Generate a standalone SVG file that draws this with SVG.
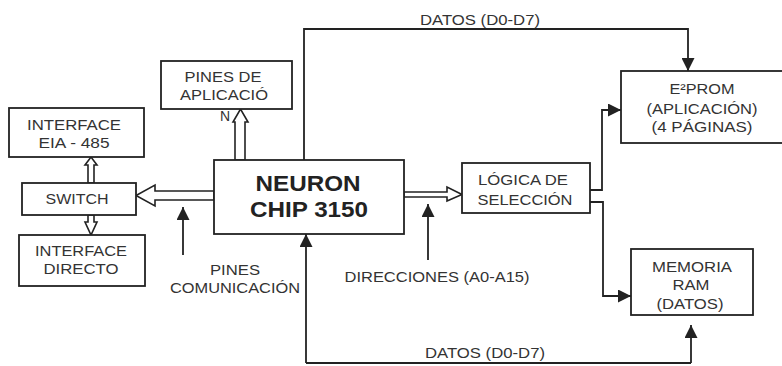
<svg xmlns="http://www.w3.org/2000/svg" width="782" height="366" viewBox="0 0 782 366">
<defs>
<style>
.box{fill:#fff;stroke:#222;stroke-width:1.8}
.t{font-family:"Liberation Sans",Arial,sans-serif;font-size:14px;fill:#333;text-anchor:middle;dominant-baseline:central}
.big{font-family:"Liberation Sans",Arial,sans-serif;font-size:22px;font-weight:bold;fill:#222;text-anchor:middle;dominant-baseline:central}
.ln{fill:none;stroke:#222;stroke-width:1.8}
.hol{fill:#fff;stroke:#222;stroke-width:1.6;stroke-linejoin:miter}
</style>
<marker id="ah" viewBox="0 0 13 13" refX="13" refY="6.5" markerWidth="13" markerHeight="13" markerUnits="userSpaceOnUse" orient="auto">
<path d="M0,0 L13,6.5 L0,13 Z" fill="#222"/>
</marker>
</defs>
<rect width="782" height="366" fill="#fff"/>

<g id="connectors">
<polyline class="ln" points="304,160 304,29 688,29 688,71" marker-end="url(#ah)"/>
<polyline class="ln" points="590,190 602,190 602,110 621,110" marker-end="url(#ah)"/>
<polyline class="ln" points="590,202 603,202 603,296 631,296" marker-end="url(#ah)"/>
<polyline class="ln" points="691,363 691,325" marker-end="url(#ah)"/>
<polyline class="ln" points="306,363 691,363"/>
<polyline class="ln" points="306,363 306,234" marker-end="url(#ah)"/>
<line class="ln" x1="183" y1="255" x2="183" y2="207" marker-end="url(#ah)"/>
<line class="ln" x1="428" y1="260" x2="428" y2="204" marker-end="url(#ah)"/>
<polygon class="hol" points="214,191 155,191 155,185 136,195.5 155,206 155,200 214,200"/>
<polygon class="hol" points="404,192 447,192 447,187 462,194.5 447,201 447,197 404,197"/>
<polygon class="hol" points="235,160 235,122 233,122 240.5,109 248,122 245,122 245,160"/>
<polygon class="hol" points="88,183 88,165 85,165 91,157 97,165 94,165 94,183"/>
<polygon class="hol" points="88,215 88,222 85,222 91,235 97,222 94,222 94,215"/>
<text class="t" x="480" y="20" textLength="120" lengthAdjust="spacingAndGlyphs">DATOS (D0-D7)</text>
<text class="t" x="485" y="353" textLength="120" lengthAdjust="spacingAndGlyphs">DATOS (D0-D7)</text>
<text class="t" x="437" y="277" textLength="185" lengthAdjust="spacingAndGlyphs">DIRECCIONES (A0-A15)</text>
<text class="t" x="235" y="270" textLength="50" lengthAdjust="spacingAndGlyphs">PINES</text>
<text class="t" x="235" y="288" textLength="130" lengthAdjust="spacingAndGlyphs">COMUNICACIÓN</text>
</g>

<g id="pines-aplicacion">
<rect class="box" x="161" y="61" width="131" height="48"/>
<text class="t" x="223" y="77" textLength="77" lengthAdjust="spacingAndGlyphs">PINES DE</text>
<text class="t" x="224" y="95" textLength="88" lengthAdjust="spacingAndGlyphs">APLICACIÓ</text>
<text class="t" x="225" y="116">N</text>
</g>

<g id="interface-eia">
<rect class="box" x="9" y="108" width="135" height="49"/>
<text class="t" x="74" y="125" textLength="94" lengthAdjust="spacingAndGlyphs">INTERFACE</text>
<text class="t" x="74" y="143" textLength="71" lengthAdjust="spacingAndGlyphs">EIA - 485</text>
</g>

<g id="switch">
<rect class="box" x="22" y="183" width="114" height="32"/>
<text class="t" x="77" y="199" textLength="63" lengthAdjust="spacingAndGlyphs">SWITCH</text>
</g>

<g id="interface-directo">
<rect class="box" x="19" y="235" width="126" height="51"/>
<text class="t" x="81" y="251" textLength="92" lengthAdjust="spacingAndGlyphs">INTERFACE</text>
<text class="t" x="81" y="269" textLength="75" lengthAdjust="spacingAndGlyphs">DIRECTO</text>
</g>

<g id="neuron-chip">
<rect class="box" x="214" y="160" width="190" height="74"/>
<text class="big" x="308" y="183" textLength="105" lengthAdjust="spacingAndGlyphs">NEURON</text>
<text class="big" x="309" y="209" textLength="118" lengthAdjust="spacingAndGlyphs">CHIP 3150</text>
</g>

<g id="logica">
<rect class="box" x="462" y="163" width="128" height="50"/>
<text class="t" x="523" y="180" textLength="90" lengthAdjust="spacingAndGlyphs">LÓGICA DE</text>
<text class="t" x="525" y="200" textLength="95" lengthAdjust="spacingAndGlyphs">SELECCIÓN</text>
</g>

<g id="eprom">
<rect class="box" x="621" y="71" width="170" height="72"/>
<text class="t" x="702" y="89" textLength="65" lengthAdjust="spacingAndGlyphs">E²PROM</text>
<text class="t" x="702" y="109" textLength="111" lengthAdjust="spacingAndGlyphs">(APLICACIÓN)</text>
<text class="t" x="702" y="127" textLength="101" lengthAdjust="spacingAndGlyphs">(4 PÁGINAS)</text>
</g>

<g id="memoria">
<rect class="box" x="631" y="249" width="122" height="66"/>
<text class="t" x="692" y="267" textLength="80" lengthAdjust="spacingAndGlyphs">MEMORIA</text>
<text class="t" x="691" y="285" textLength="37" lengthAdjust="spacingAndGlyphs">RAM</text>
<text class="t" x="690" y="304" textLength="67" lengthAdjust="spacingAndGlyphs">(DATOS)</text>
</g>
</svg>
